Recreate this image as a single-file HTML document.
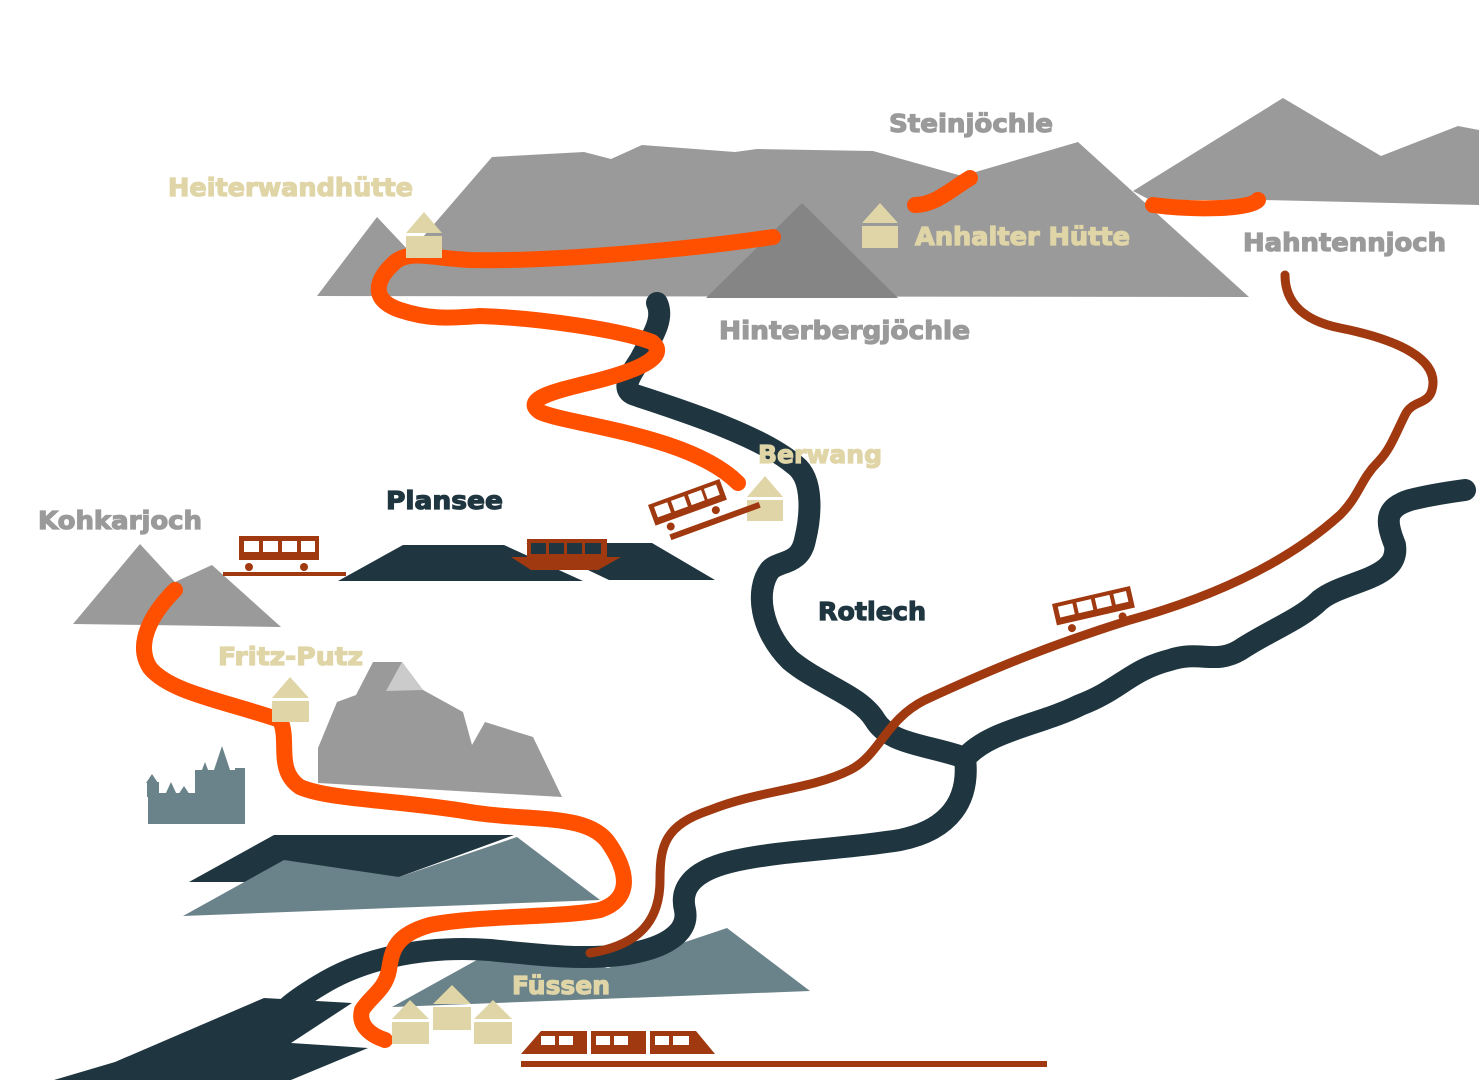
<!DOCTYPE html>
<html><head><meta charset="utf-8"><style>html,body{margin:0;padding:0;background:#fff}svg{display:block}text{font-family:"DejaVu Sans","Liberation Sans",sans-serif;font-weight:bold;font-size:25px;stroke-width:1.2}</style></head>
<body>
<svg width="1479" height="1080" viewBox="0 0 1479 1080" xmlns="http://www.w3.org/2000/svg">
<polygon fill="#9a9a9a" points="1133,191 1283,98 1381,156 1458,126 1479,130 1479,205 1262,200 1150,200"/>
<polygon fill="#9a9a9a" points="317,296 377,217 410,252 492,157 584,152 611,159 642,145 735,152 757,149 873,151 962,176 1078,142 1249,297"/>
<polygon fill="#858585" points="706,298 802,203 898,298"/>
<polygon fill="#9a9a9a" points="73,624 140,544 175,582 212,565 281,627 150,625"/>
<polygon fill="#9a9a9a" points="318,783 318,748 337,702 356,695 373,662 402,662 423,690 463,712 472,745 485,722 533,737 562,797"/>
<polygon fill="#cbcbcb" points="386,691 402,662 423,690"/>
<polygon fill="#1f3640" points="338,581 403,545 504,545 583,581"/>
<polygon fill="#1f3640" points="588,570 609,580 715,580 652,543 526,543"/>
<polygon fill="#1f3640" points="189,882 274,835 514,835 399,877 300,882"/>
<polygon fill="#6a8289" points="183,916 284,860 399,877 517,837 600,900"/>
<polygon fill="#6a8289" points="392,1007 493,951 608,968 727,928 810,991"/>
<g fill="#6a8289">
<rect x="148" y="793" width="97" height="31"/>
<rect x="195" y="770" width="50" height="30"/>
<polygon points="200,775 205,762 210,775"/>
<polygon points="214,770 222,746 230,770"/>
<rect x="235" y="768" width="10" height="10"/>
<rect x="147" y="782" width="12" height="15"/>
<polygon points="146,783 152,774 158,783"/>
<polygon points="165,795 171,782 177,795"/>
<polygon points="178,795 184,786 190,795"/>
</g>
<g fill="none" stroke="#1f3640" stroke-width="22" stroke-linecap="round" stroke-linejoin="round">
<path d="M657,303 C665,320 650,340 640,360 C630,375 620,390 635,395 C680,410 760,435 795,465 C815,480 810,520 805,540 C800,565 780,560 770,570 C755,590 760,630 790,660 C820,685 860,695 875,720 C890,745 930,745 965,758"/>
<path d="M965,758 C990,730 1040,725 1080,705 C1120,690 1130,670 1170,660 C1200,650 1215,665 1240,650 C1270,630 1300,620 1320,600 C1345,580 1400,580 1395,545 C1385,520 1385,508 1410,500 C1430,495 1450,492 1465,490"/>
<path d="M965,758 C970,800 950,830 900,840 C840,850 780,850 730,862 C690,872 680,890 685,910 C690,935 660,950 620,955 C580,960 540,955 490,950 C420,945 360,960 320,985 C300,997 290,1005 285,1010"/>
</g>
<polygon fill="#1f3640" points="54,1080 115,1062 264,998 352,1003 291,1043 368,1048 291,1080"/>
<path fill="none" stroke="#a0390f" stroke-width="9" stroke-linecap="round" stroke-linejoin="round" d="M1285,275 C1285,300 1300,320 1340,328 C1400,340 1440,360 1432,390 C1428,405 1412,400 1405,415 C1395,435 1390,450 1378,462 C1360,480 1360,495 1340,515 C1290,560 1220,595 1130,620 C1050,645 990,670 925,700 C885,720 880,755 850,770 C810,790 760,790 710,810 C665,825 660,845 660,880 C660,920 640,945 590,953"/>
<g fill="none" stroke="#ff5000" stroke-width="16" stroke-linecap="round" stroke-linejoin="round">
<path d="M773,237 C700,248 560,262 470,260 C430,258 410,250 395,262 C375,280 370,300 400,310 C430,320 450,318 480,316 C540,318 620,330 652,342 C668,355 645,368 600,380 C560,390 520,398 540,412 C570,425 690,435 738,483"/>
<path d="M915,205 C935,205 950,190 970,178"/>
<path d="M1153,205 C1190,210 1250,210 1258,200"/>
<path d="M175,590 C150,615 135,645 150,668 C170,692 220,700 280,720 C290,740 275,770 300,787 C330,800 400,800 470,812 C530,822 590,812 610,845 C630,875 630,900 600,910 C560,918 480,915 430,925 C395,935 392,950 389,970 C385,990 372,995 362,1010 C358,1025 370,1035 385,1040"/>
</g>
<g fill="#e0d5a6">
<polygon points="406,233 424,212 442,233"/><rect x="406" y="236" width="36" height="22"/>
<polygon points="862,223 880,203 898,223"/><rect x="862" y="226" width="36" height="22"/>
<polygon points="747,497 765,476 783,497"/><rect x="747" y="500" width="36" height="21"/>
<polygon points="272,698 290,677 309,698"/><rect x="272" y="701" width="37" height="21"/>
<polygon points="392,1019 410,1000 429,1019"/><rect x="392" y="1022" width="37" height="22"/>
<polygon points="433,1004 452,985 471,1004"/><rect x="433" y="1007" width="38" height="23"/>
<polygon points="474,1019 493,1000 512,1019"/><rect x="474" y="1022" width="38" height="22"/>
</g>
<g fill="#a0390f">
<rect x="239" y="536" width="80" height="24"/>
<rect x="244" y="541" width="15" height="11" fill="#fff"/><rect x="263" y="541" width="15" height="11" fill="#fff"/><rect x="282" y="541" width="15" height="11" fill="#fff"/><rect x="301" y="541" width="14" height="11" fill="#fff"/>
<rect x="223" y="572" width="123" height="4"/>
<circle cx="249" cy="567" r="4"/><circle cx="304" cy="567" r="4"/>
<polygon points="511,557 621,557 598,570 531,570"/>
<rect x="527" y="539" width="80" height="18"/>
<rect x="531" y="543" width="15" height="11" fill="#1f3640"/><rect x="549" y="543" width="15" height="11" fill="#1f3640"/><rect x="567" y="543" width="15" height="11" fill="#1f3640"/><rect x="585" y="543" width="16" height="11" fill="#1f3640"/>
<g transform="translate(648,505) rotate(-20)">
<rect x="0" y="0" width="76" height="22"/>
<rect x="5" y="4" width="14" height="11" fill="#fff"/><rect x="23" y="4" width="14" height="11" fill="#fff"/><rect x="41" y="4" width="14" height="11" fill="#fff"/><rect x="58" y="4" width="13" height="11" fill="#fff"/>
<circle cx="14" cy="28" r="4"/><circle cx="62" cy="28" r="4"/>
<rect x="10" y="35" width="95" height="6"/>
</g>
<g transform="translate(1052,604) rotate(-13)">
<rect x="0" y="0" width="80" height="22"/>
<rect x="5" y="4" width="15" height="11" fill="#fff"/><rect x="24" y="4" width="15" height="11" fill="#fff"/><rect x="43" y="4" width="15" height="11" fill="#fff"/><rect x="62" y="4" width="13" height="11" fill="#fff"/>
<circle cx="14" cy="28" r="4"/><circle cx="66" cy="28" r="4"/>
</g>
<polygon points="521,1054 541,1031 587,1031 587,1054"/>
<rect x="591" y="1031" width="55" height="23"/>
<polygon points="650,1031 696,1031 715,1054 650,1054"/>
<g fill="#fff">
<rect x="541" y="1036" width="14" height="9"/><rect x="559" y="1036" width="14" height="9"/>
<rect x="596" y="1036" width="14" height="9"/><rect x="614" y="1036" width="14" height="9"/>
<rect x="655" y="1036" width="14" height="9"/><rect x="673" y="1036" width="16" height="9"/>
</g>
<rect x="521" y="1061" width="526" height="6"/>
</g>
<text x="889" y="132" fill="#9a9a9a" stroke="#9a9a9a" textLength="164" lengthAdjust="spacingAndGlyphs">Steinjöchle</text>
<text x="168" y="196" fill="#e0d5a6" stroke="#e0d5a6" textLength="245" lengthAdjust="spacingAndGlyphs">Heiterwandhütte</text>
<text x="915" y="245" fill="#e0d5a6" stroke="#e0d5a6" textLength="215" lengthAdjust="spacingAndGlyphs">Anhalter Hütte</text>
<text x="1243" y="251" fill="#9a9a9a" stroke="#9a9a9a" textLength="203" lengthAdjust="spacingAndGlyphs">Hahntennjoch</text>
<text x="719" y="339" fill="#9a9a9a" stroke="#9a9a9a" textLength="251" lengthAdjust="spacingAndGlyphs">Hinterbergjöchle</text>
<text x="758" y="463" fill="#e0d5a6" stroke="#e0d5a6" textLength="124" lengthAdjust="spacingAndGlyphs">Berwang</text>
<text x="386" y="509" fill="#1f3640" stroke="#1f3640" textLength="117" lengthAdjust="spacingAndGlyphs">Plansee</text>
<text x="38" y="529" fill="#9a9a9a" stroke="#9a9a9a" textLength="164" lengthAdjust="spacingAndGlyphs">Kohkarjoch</text>
<text x="818" y="620" fill="#1f3640" stroke="#1f3640" textLength="108" lengthAdjust="spacingAndGlyphs">Rotlech</text>
<text x="218" y="665" fill="#e0d5a6" stroke="#e0d5a6" textLength="145" lengthAdjust="spacingAndGlyphs">Fritz-Putz</text>
<text x="512" y="994" fill="#e0d5a6" stroke="#e0d5a6" textLength="98" lengthAdjust="spacingAndGlyphs">Füssen</text>
</svg>
</body></html>
